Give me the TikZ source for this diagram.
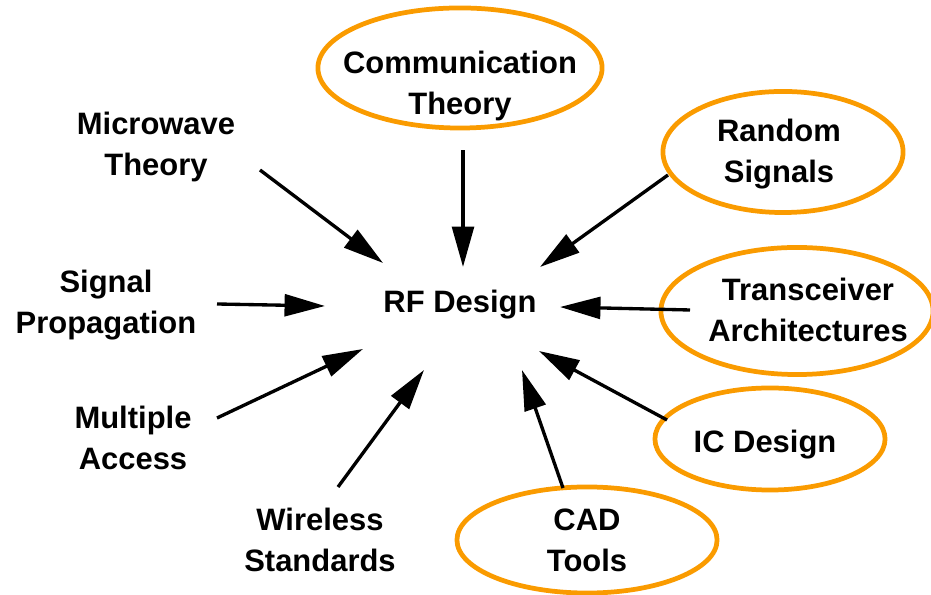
\documentclass[tikz,border=0pt]{standalone}
\usepackage{fontspec}
\setmainfont{Liberation Sans}
\usetikzlibrary{shapes.geometric,arrows.meta}
\definecolor{ringorange}{RGB}{250,155,0}
\begin{document}
\begin{tikzpicture}[x=0.01cm,y=-0.01cm,
  lbl/.style={align=center,inner sep=0pt,font=\fontsize{8.8}{11.6}\selectfont\bfseries},
  ring/.style={ellipse,draw=ringorange,line width=1.35pt,inner sep=0pt},
  feed/.style={line width=0.95pt,-{Triangle[length=11.5pt,width=6.2pt]}}]
\useasboundingbox (0,0) rectangle (931,595);
% rings
\node[ring,minimum width=2.84cm,minimum height=1.2cm] (ct-ring) at (460,68) {};
\node[ring,minimum width=2.4cm,minimum height=1.21cm] (rs-ring) at (783,152) {};
\node[ring,minimum width=2.72cm,minimum height=1.27cm] (ta-ring) at (797,311) {};
\node[ring,minimum width=2.3cm,minimum height=1.02cm] (ic-ring) at (770,439) {};
\node[ring,minimum width=2.6cm,minimum height=1.06cm] (cad-ring) at (587,540) {};
% labels
\node[lbl] (rf) at (460,305) {RF Design};
\node[lbl] (ct) at (460,86) {Communication\\Theory};
\node[lbl] (mw) at (156,147) {Microwave\\Theory};
\node[lbl] (sp) at (106,305) {Signal\\Propagation};
\node[lbl] (ma) at (133,438) {Multiple\\Access};
\node[lbl] (ws) at (320,540) {Wireless\\Standards};
\node[lbl] (rs) at (779,154) {Random\\Signals};
\node[lbl] (ta) at (808,310) {Transceiver\\Architectures};
\node[lbl] (ic) at (765,445) {IC Design};
\node[lbl] (cad) at (587,540) {CAD\\Tools};
% arrows into RF Design
\draw[feed] ([shift={(104,23)}]mw.center) -- ([shift={(-77,-42)}]rf.center);
\draw[feed] ([shift={(111,-1)}]sp.center) -- ([shift={(-135,1)}]rf.center);
\draw[feed] ([shift={(84,-20)}]ma.center) -- ([shift={(-97,44)}]rf.center);
\draw[feed] ([shift={(18,-53)}]ws.center) -- ([shift={(-36,65)}]rf.center);
\draw[feed] ([shift={(3,20)}]ct-ring.south) -- ([shift={(3,-38)}]rf.center);
\draw[feed] ([shift={(-115,23)}]rs-ring.center) -- ([shift={(80,-38)}]rf.center);
\draw[feed] ([shift={(-107,-1)}]ta-ring.center) -- ([shift={(100,2)}]rf.center);
\draw[feed] ([shift={(-103,-19)}]ic-ring.center) -- ([shift={(79,46)}]rf.center);
\draw[feed] ([shift={(-24,-52)}]cad-ring.center) -- ([shift={(62,65)}]rf.center);
\end{tikzpicture}
\end{document}
